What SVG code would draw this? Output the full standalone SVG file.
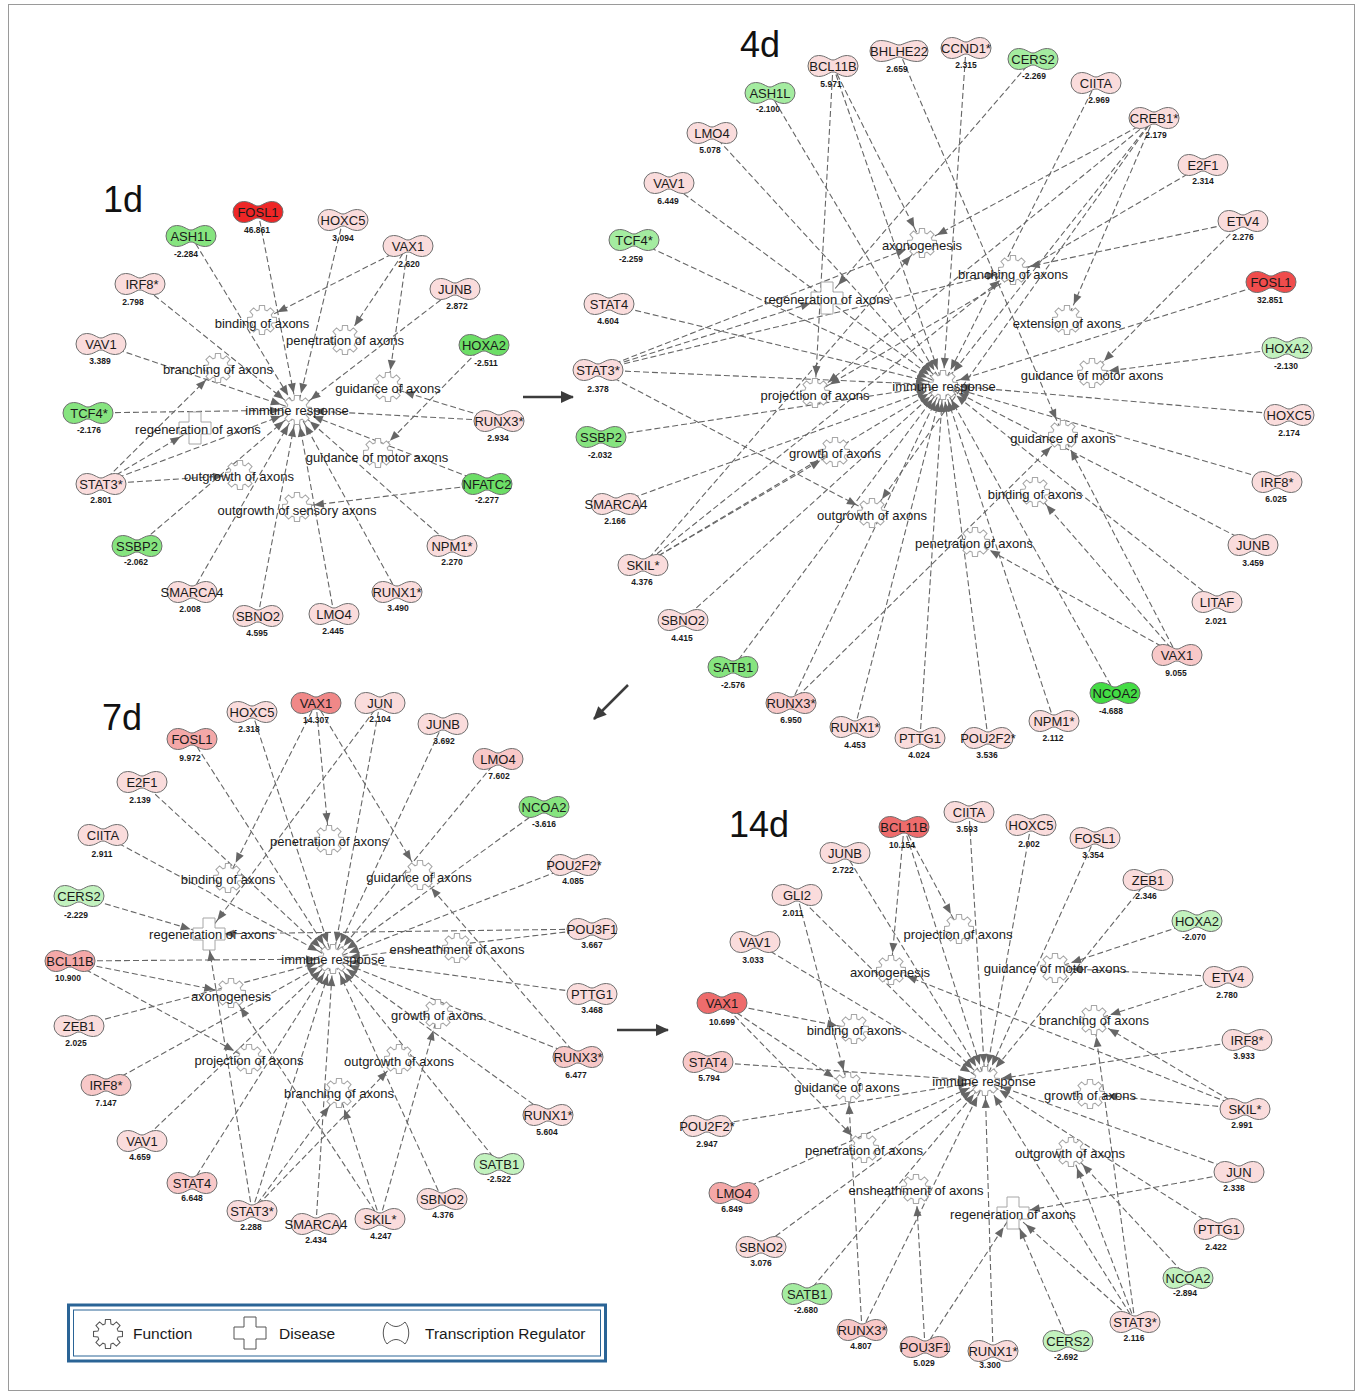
<svg xmlns="http://www.w3.org/2000/svg" width="1362" height="1395" viewBox="0 0 1362 1395">
<defs>
<style>
.e{fill:none;stroke:#666;stroke-width:1.1;stroke-dasharray:6 3;marker-end:url(#ah)}
.n{stroke:#6e6e6e;stroke-width:1}
.lb{font-family:"Liberation Sans",Arial,sans-serif;font-size:13px;fill:#1a1a1a;text-anchor:middle}
.v{font-family:"Liberation Sans",Arial,sans-serif;font-size:8.5px;font-weight:bold;fill:#1a1a1a;text-anchor:middle}
.fn{fill:#fff;stroke:#a6a6a6;stroke-width:1}
.ft{font-family:"Liberation Sans",Arial,sans-serif;font-size:13px;fill:#1a1a1a;text-anchor:middle}
.tt{font-family:"Liberation Sans",Arial,sans-serif;font-size:36px;fill:#111}
.lg{font-family:"Liberation Sans",Arial,sans-serif;font-size:15.5px;fill:#1a1a1a}
.big{stroke:#3c3c3c;stroke-width:2.5;fill:none;marker-end:url(#bh)}
.p0{fill:#fadcdc}.p1{fill:#f8c8c8}.p2{fill:#f4a8a8}.p3{fill:#f08888}.p4{fill:#ee6c6c}
.r1{fill:#ee2626}.r2{fill:#f04c4c}
.g0{fill:#c2f2be}.g1{fill:#a4eca0}.g2{fill:#86e47f}.g3{fill:#6cde66}.g4{fill:#44dc44}
</style>
<marker id="ah" markerUnits="userSpaceOnUse" markerWidth="10" markerHeight="8" refX="27" refY="4" orient="auto" overflow="visible"><path d="M0,0 L10,4 L0,8 Z" fill="#666"/></marker>
<marker id="bh" markerUnits="userSpaceOnUse" markerWidth="14" markerHeight="12" refX="12" refY="6" orient="auto" overflow="visible"><path d="M0,0 L13,6 L0,12 Z" fill="#3c3c3c"/></marker>
<path id="tr" d="M0,-6 C-4,-6 -7,-10.5 -14.5,-10.5 A10.5,10.5 0 0 0 -14.5,10.5 C-7,10.5 -4,6 0,6 C4,6 7,10.5 14.5,10.5 A10.5,10.5 0 0 0 14.5,-10.5 C7,-10.5 4,-6 0,-6 Z"/>
<path id="trw" d="M0,-6 C-4,-6 -9,-10.5 -18.5,-10.5 A10.5,10.5 0 0 0 -18.5,10.5 C-9,10.5 -4,6 0,6 C4,6 9,10.5 18.5,10.5 A10.5,10.5 0 0 0 18.5,-10.5 C9,-10.5 4,-6 0,-6 Z"/>
<path id="gear" transform="scale(1.05)" d="M9.61,-2.76 L13.79,-2.43 L13.79,2.43 L9.61,2.76 L8.75,4.85 L11.47,8.03 L8.03,11.47 L4.85,8.75 L2.76,9.61 L2.43,13.79 L-2.43,13.79 L-2.76,9.61 L-4.85,8.75 L-8.03,11.47 L-11.47,8.03 L-8.75,4.85 L-9.61,2.76 L-13.79,2.43 L-13.79,-2.43 L-9.61,-2.76 L-8.75,-4.85 L-11.47,-8.03 L-8.03,-11.47 L-4.85,-8.75 L-2.76,-9.61 L-2.43,-13.79 L2.43,-13.79 L2.76,-9.61 L4.85,-8.75 L8.03,-11.47 L11.47,-8.03 L8.75,-4.85 Z"/>
<path id="cross" d="M-6,-16 H6 V-6 H16 V6 H6 V16 H-6 V6 H-16 V-6 H-6 Z"/>
</defs>
<rect x="0" y="0" width="1362" height="1395" fill="#fff"/>
<rect x="8.5" y="4.5" width="1346" height="1386" fill="none" stroke="#9a9a9a" stroke-width="1"/>

<g id="titles">
<text class="tt" x="103" y="212">1d</text>
<text class="tt" x="740" y="57">4d</text>
<text class="tt" x="102" y="730">7d</text>
<text class="tt" x="729" y="837">14d</text>
</g>

<g id="connectors">
<!-- 1d -->
<line class="e" x1="191" y1="236" x2="297" y2="410"/>
<line class="e" x1="258" y1="212" x2="297" y2="410"/>
<line class="e" x1="343" y1="220" x2="297" y2="410"/>
<line class="e" x1="140" y1="284" x2="297" y2="410"/>
<line class="e" x1="101" y1="344" x2="297" y2="410"/>
<line class="e" x1="88" y1="413" x2="297" y2="410"/>
<line class="e" x1="455" y1="289" x2="297" y2="410"/>
<line class="e" x1="499" y1="421" x2="297" y2="410"/>
<line class="e" x1="499" y1="421" x2="388" y2="387"/>
<line class="e" x1="484" y1="345" x2="378" y2="453"/>
<line class="e" x1="408" y1="246" x2="262" y2="320"/>
<line class="e" x1="408" y1="246" x2="345" y2="340"/>
<line class="e" x1="408" y1="246" x2="388" y2="387"/>
<line class="e" x1="101" y1="484" x2="218" y2="368"/>
<line class="e" x1="101" y1="484" x2="195" y2="428"/>
<line class="e" x1="101" y1="484" x2="297" y2="410"/>
<line class="e" x1="101" y1="484" x2="240" y2="475"/>
<line class="e" x1="487" y1="484" x2="297" y2="410"/>
<line class="e" x1="487" y1="484" x2="297" y2="507"/>
<line class="e" x1="137" y1="546" x2="297" y2="410"/>
<line class="e" x1="192" y1="592" x2="297" y2="410"/>
<line class="e" x1="258" y1="616" x2="297" y2="410"/>
<line class="e" x1="334" y1="614" x2="297" y2="410"/>
<line class="e" x1="397" y1="592" x2="297" y2="410"/>
<line class="e" x1="452" y1="546" x2="297" y2="410"/>
<!-- 4d -->
<line class="e" x1="833" y1="66" x2="815" y2="393"/>
<line class="e" x1="833" y1="66" x2="922" y2="243"/>
<line class="e" x1="833" y1="66" x2="943" y2="385"/>
<line class="e" x1="899" y1="51" x2="1063" y2="435"/>
<line class="e" x1="966" y1="48" x2="943" y2="385"/>
<line class="e" x1="1033" y1="59" x2="827" y2="298"/>
<line class="e" x1="1096" y1="83" x2="943" y2="385"/>
<line class="e" x1="770" y1="93" x2="943" y2="385"/>
<line class="e" x1="1154" y1="118" x2="922" y2="243"/>
<line class="e" x1="1154" y1="118" x2="1067" y2="320"/>
<line class="e" x1="1154" y1="118" x2="943" y2="385"/>
<line class="e" x1="1154" y1="118" x2="815" y2="393"/>
<line class="e" x1="1154" y1="118" x2="872" y2="513"/>
<line class="e" x1="712" y1="133" x2="943" y2="385"/>
<line class="e" x1="1203" y1="165" x2="815" y2="393"/>
<line class="e" x1="669" y1="183" x2="943" y2="385"/>
<line class="e" x1="634" y1="240" x2="943" y2="385"/>
<line class="e" x1="1243" y1="221" x2="1013" y2="270"/>
<line class="e" x1="1243" y1="221" x2="1092" y2="373"/>
<line class="e" x1="1271" y1="282" x2="943" y2="385"/>
<line class="e" x1="609" y1="304" x2="943" y2="385"/>
<line class="e" x1="1287" y1="348" x2="1092" y2="373"/>
<line class="e" x1="598" y1="370" x2="827" y2="298"/>
<line class="e" x1="598" y1="370" x2="922" y2="243"/>
<line class="e" x1="598" y1="370" x2="1013" y2="270"/>
<line class="e" x1="598" y1="370" x2="943" y2="385"/>
<line class="e" x1="598" y1="370" x2="872" y2="513"/>
<line class="e" x1="1289" y1="415" x2="943" y2="385"/>
<line class="e" x1="601" y1="437" x2="943" y2="385"/>
<line class="e" x1="1277" y1="482" x2="943" y2="385"/>
<line class="e" x1="616" y1="504" x2="943" y2="385"/>
<line class="e" x1="1253" y1="545" x2="943" y2="385"/>
<line class="e" x1="643" y1="565" x2="943" y2="385"/>
<line class="e" x1="643" y1="565" x2="922" y2="243"/>
<line class="e" x1="643" y1="565" x2="835" y2="452"/>
<line class="e" x1="643" y1="565" x2="1013" y2="270"/>
<line class="e" x1="1217" y1="602" x2="943" y2="385"/>
<line class="e" x1="683" y1="620" x2="943" y2="385"/>
<line class="e" x1="1177" y1="655" x2="1063" y2="435"/>
<line class="e" x1="1177" y1="655" x2="1035" y2="492"/>
<line class="e" x1="1177" y1="655" x2="975" y2="542"/>
<line class="e" x1="733" y1="667" x2="943" y2="385"/>
<line class="e" x1="1115" y1="693" x2="943" y2="385"/>
<line class="e" x1="791" y1="703" x2="943" y2="385"/>
<line class="e" x1="791" y1="703" x2="1063" y2="435"/>
<line class="e" x1="1054" y1="721" x2="943" y2="385"/>
<line class="e" x1="855" y1="727" x2="943" y2="385"/>
<line class="e" x1="920" y1="738" x2="943" y2="385"/>
<line class="e" x1="988" y1="738" x2="943" y2="385"/>
<!-- 7d -->
<line class="e" x1="252" y1="712" x2="333" y2="959"/>
<line class="e" x1="316" y1="703" x2="228" y2="878"/>
<line class="e" x1="316" y1="703" x2="329" y2="840"/>
<line class="e" x1="316" y1="703" x2="420" y2="875"/>
<line class="e" x1="380" y1="703" x2="207" y2="934"/>
<line class="e" x1="380" y1="703" x2="333" y2="959"/>
<line class="e" x1="443" y1="724" x2="333" y2="959"/>
<line class="e" x1="192" y1="739" x2="333" y2="959"/>
<line class="e" x1="498" y1="759" x2="333" y2="959"/>
<line class="e" x1="142" y1="782" x2="333" y2="959"/>
<line class="e" x1="544" y1="807" x2="333" y2="959"/>
<line class="e" x1="103" y1="835" x2="333" y2="959"/>
<line class="e" x1="574" y1="865" x2="333" y2="959"/>
<line class="e" x1="79" y1="896" x2="207" y2="934"/>
<line class="e" x1="592" y1="929" x2="207" y2="934"/>
<line class="e" x1="592" y1="929" x2="333" y2="959"/>
<line class="e" x1="70" y1="961" x2="333" y2="959"/>
<line class="e" x1="70" y1="961" x2="231" y2="993"/>
<line class="e" x1="70" y1="961" x2="249" y2="1059"/>
<line class="e" x1="592" y1="994" x2="333" y2="959"/>
<line class="e" x1="79" y1="1026" x2="333" y2="959"/>
<line class="e" x1="578" y1="1057" x2="420" y2="875"/>
<line class="e" x1="578" y1="1057" x2="333" y2="959"/>
<line class="e" x1="106" y1="1085" x2="333" y2="959"/>
<line class="e" x1="548" y1="1115" x2="333" y2="959"/>
<line class="e" x1="142" y1="1141" x2="333" y2="959"/>
<line class="e" x1="499" y1="1164" x2="333" y2="959"/>
<line class="e" x1="192" y1="1183" x2="333" y2="959"/>
<line class="e" x1="442" y1="1199" x2="333" y2="959"/>
<line class="e" x1="252" y1="1211" x2="207" y2="934"/>
<line class="e" x1="252" y1="1211" x2="333" y2="959"/>
<line class="e" x1="252" y1="1211" x2="339" y2="1093"/>
<line class="e" x1="252" y1="1211" x2="399" y2="1059"/>
<line class="e" x1="316" y1="1224" x2="333" y2="959"/>
<line class="e" x1="380" y1="1219" x2="231" y2="993"/>
<line class="e" x1="380" y1="1219" x2="339" y2="1093"/>
<line class="e" x1="380" y1="1219" x2="438" y2="1014"/>
<!-- 14d -->
<line class="e" x1="904" y1="827" x2="891" y2="970"/>
<line class="e" x1="904" y1="827" x2="959" y2="929"/>
<line class="e" x1="904" y1="827" x2="985" y2="1081"/>
<line class="e" x1="969" y1="812" x2="985" y2="1081"/>
<line class="e" x1="1031" y1="825" x2="985" y2="1081"/>
<line class="e" x1="1095" y1="838" x2="985" y2="1081"/>
<line class="e" x1="845" y1="853" x2="985" y2="1081"/>
<line class="e" x1="1148" y1="880" x2="985" y2="1081"/>
<line class="e" x1="797" y1="895" x2="848" y2="1087"/>
<line class="e" x1="797" y1="895" x2="985" y2="1081"/>
<line class="e" x1="1197" y1="921" x2="1055" y2="968"/>
<line class="e" x1="755" y1="942" x2="985" y2="1081"/>
<line class="e" x1="1228" y1="977" x2="1055" y2="968"/>
<line class="e" x1="1228" y1="977" x2="1094" y2="1020"/>
<line class="e" x1="722" y1="1003" x2="854" y2="1029"/>
<line class="e" x1="722" y1="1003" x2="848" y2="1087"/>
<line class="e" x1="722" y1="1003" x2="864" y2="1148"/>
<line class="e" x1="1247" y1="1040" x2="985" y2="1081"/>
<line class="e" x1="708" y1="1062" x2="985" y2="1081"/>
<line class="e" x1="1245" y1="1109" x2="891" y2="970"/>
<line class="e" x1="1245" y1="1109" x2="1094" y2="1020"/>
<line class="e" x1="1245" y1="1109" x2="1090" y2="1094"/>
<line class="e" x1="707" y1="1126" x2="985" y2="1081"/>
<line class="e" x1="1239" y1="1172" x2="1013" y2="1213"/>
<line class="e" x1="1239" y1="1172" x2="985" y2="1081"/>
<line class="e" x1="734" y1="1193" x2="985" y2="1081"/>
<line class="e" x1="1219" y1="1229" x2="985" y2="1081"/>
<line class="e" x1="761" y1="1247" x2="985" y2="1081"/>
<line class="e" x1="1188" y1="1278" x2="1071" y2="1152"/>
<line class="e" x1="807" y1="1294" x2="985" y2="1081"/>
<line class="e" x1="862" y1="1330" x2="848" y2="1087"/>
<line class="e" x1="862" y1="1330" x2="985" y2="1081"/>
<line class="e" x1="925" y1="1347" x2="916" y2="1189"/>
<line class="e" x1="925" y1="1347" x2="1013" y2="1213"/>
<line class="e" x1="993" y1="1351" x2="985" y2="1081"/>
<line class="e" x1="1068" y1="1341" x2="1013" y2="1213"/>
<line class="e" x1="1135" y1="1322" x2="1013" y2="1213"/>
<line class="e" x1="1135" y1="1322" x2="1071" y2="1152"/>
<line class="e" x1="1135" y1="1322" x2="1094" y2="1020"/>
<line class="e" x1="1135" y1="1322" x2="985" y2="1081"/>
<!-- panel arrows -->
<line class="big" x1="523" y1="397" x2="573" y2="397"/>
<line class="big" x1="628" y1="685" x2="594" y2="719"/>
<line class="big" x1="617" y1="1030" x2="668" y2="1030"/>
</g>

<g id="functions-1d">
<g id="f1-bind"><use href="#gear" x="262" y="320" class="fn"/><text class="ft" x="262" y="328">binding of axons</text></g>
<g id="f1-pen"><use href="#gear" x="345" y="340" class="fn"/><text class="ft" x="345" y="344.5">penetration of axons</text></g>
<g id="f1-bra"><use href="#gear" x="218" y="368" class="fn"/><text class="ft" x="218" y="373.5">branching of axons</text></g>
<g id="f1-gui"><use href="#gear" x="388" y="387" class="fn"/><text class="ft" x="388" y="392.5">guidance of axons</text></g>
<g id="f1-reg"><use href="#cross" x="195" y="428" class="fn"/><text class="ft" x="198" y="433.5">regeneration of axons</text></g>
<g id="f1-gmot"><use href="#gear" x="378" y="453" class="fn"/><text class="ft" x="377" y="461.5">guidance of motor axons</text></g>
<g id="f1-out"><use href="#gear" x="240" y="475" class="fn"/><text class="ft" x="239" y="480.5">outgrowth of axons</text></g>
<g id="f1-outs"><use href="#gear" x="297" y="507" class="fn"/><text class="ft" x="297" y="515">outgrowth of sensory axons</text></g>
<g id="f1-imm"><use href="#gear" x="297" y="410" class="fn"/><text class="ft" x="297" y="414.5">immune response</text></g>
</g>

<g id="functions-4d">
<g id="f4-axg"><use href="#gear" x="922" y="243" class="fn"/><text class="ft" x="922" y="250">axonogenesis</text></g>
<g id="f4-bra"><use href="#gear" x="1013" y="270" class="fn"/><text class="ft" x="1013" y="279">branching of axons</text></g>
<g id="f4-reg"><use href="#cross" x="827" y="298" class="fn"/><text class="ft" x="827" y="304">regeneration of axons</text></g>
<g id="f4-ext"><use href="#gear" x="1067" y="320" class="fn"/><text class="ft" x="1067" y="327.5">extension of axons</text></g>
<g id="f4-gmot"><use href="#gear" x="1092" y="373" class="fn"/><text class="ft" x="1092" y="379.5">guidance of motor axons</text></g>
<g id="f4-proj"><use href="#gear" x="815" y="393" class="fn"/><text class="ft" x="815" y="399.5">projection of axons</text></g>
<g id="f4-gui"><use href="#gear" x="1063" y="435" class="fn"/><text class="ft" x="1063" y="442.5">guidance of axons</text></g>
<g id="f4-grow"><use href="#gear" x="835" y="452" class="fn"/><text class="ft" x="835" y="457.5">growth of axons</text></g>
<g id="f4-bind"><use href="#gear" x="1035" y="492" class="fn"/><text class="ft" x="1035" y="499">binding of axons</text></g>
<g id="f4-out"><use href="#gear" x="872" y="513" class="fn"/><text class="ft" x="872" y="519.5">outgrowth of axons</text></g>
<g id="f4-pen"><use href="#gear" x="975" y="542" class="fn"/><text class="ft" x="974" y="547.5">penetration of axons</text></g>
<g id="f4-imm"><use href="#gear" x="943" y="385" class="fn"/><text class="ft" x="944" y="390.5">immune response</text></g>
</g>

<g id="functions-7d">
<g id="f7-pen"><use href="#gear" x="329" y="840" class="fn"/><text class="ft" x="329" y="846">penetration of axons</text></g>
<g id="f7-bind"><use href="#gear" x="228" y="878" class="fn"/><text class="ft" x="228" y="884">binding of axons</text></g>
<g id="f7-gui"><use href="#gear" x="420" y="875" class="fn"/><text class="ft" x="419" y="881.5">guidance of axons</text></g>
<g id="f7-reg"><use href="#cross" x="209" y="934" class="fn"/><text class="ft" x="212" y="939">regeneration of axons</text></g>
<g id="f7-ens"><use href="#gear" x="457" y="948" class="fn"/><text class="ft" x="457" y="954">ensheathment of axons</text></g>
<g id="f7-axg"><use href="#gear" x="231" y="993" class="fn"/><text class="ft" x="231" y="1001">axonogenesis</text></g>
<g id="f7-grow"><use href="#gear" x="438" y="1014" class="fn"/><text class="ft" x="437" y="1020">growth of axons</text></g>
<g id="f7-proj"><use href="#gear" x="249" y="1059" class="fn"/><text class="ft" x="249" y="1065">projection of axons</text></g>
<g id="f7-out"><use href="#gear" x="399" y="1059" class="fn"/><text class="ft" x="399" y="1065.5">outgrowth of axons</text></g>
<g id="f7-bra"><use href="#gear" x="339" y="1093" class="fn"/><text class="ft" x="339" y="1098">branching of axons</text></g>
<g id="f7-imm"><use href="#gear" x="333" y="959" class="fn"/><text class="ft" x="333" y="963.5">immune response</text></g>
</g>

<g id="functions-14d">
<g id="f14-proj"><use href="#gear" x="959" y="929" class="fn"/><text class="ft" x="958" y="939">projection of axons</text></g>
<g id="f14-axg"><use href="#gear" x="891" y="970" class="fn"/><text class="ft" x="890" y="977">axonogenesis</text></g>
<g id="f14-gmot"><use href="#gear" x="1055" y="968" class="fn"/><text class="ft" x="1055" y="973">guidance of motor axons</text></g>
<g id="f14-bra"><use href="#gear" x="1094" y="1020" class="fn"/><text class="ft" x="1094" y="1025">branching of axons</text></g>
<g id="f14-bind"><use href="#gear" x="854" y="1029" class="fn"/><text class="ft" x="854" y="1035">binding of axons</text></g>
<g id="f14-gui"><use href="#gear" x="848" y="1087" class="fn"/><text class="ft" x="847" y="1092">guidance of axons</text></g>
<g id="f14-grow"><use href="#gear" x="1090" y="1094" class="fn"/><text class="ft" x="1090" y="1099.5">growth of axons</text></g>
<g id="f14-pen"><use href="#gear" x="864" y="1148" class="fn"/><text class="ft" x="864" y="1154.5">penetration of axons</text></g>
<g id="f14-out"><use href="#gear" x="1071" y="1152" class="fn"/><text class="ft" x="1070" y="1157.5">outgrowth of axons</text></g>
<g id="f14-ens"><use href="#gear" x="916" y="1189" class="fn"/><text class="ft" x="916" y="1194.5">ensheathment of axons</text></g>
<g id="f14-reg"><use href="#cross" x="1013" y="1213" class="fn"/><text class="ft" x="1013" y="1218.5">regeneration of axons</text></g>
<g id="f14-imm"><use href="#gear" x="985" y="1081" class="fn"/><text class="ft" x="984" y="1085.5">immune response</text></g>
</g>

<g id="genes-1d">
<g id="g1-FOSL1"><use href="#tr" x="258" y="212" class="n r1"/><text class="lb" x="258" y="216.5">FOSL1</text><text class="v" x="257" y="233">46.861</text></g>
<g id="g1-HOXC5"><use href="#tr" x="343" y="220" class="n p0"/><text class="lb" x="343" y="224.5">HOXC5</text><text class="v" x="343" y="241">3.094</text></g>
<g id="g1-ASH1L"><use href="#tr" x="191" y="236" class="n g2"/><text class="lb" x="191" y="240.5">ASH1L</text><text class="v" x="186" y="257">-2.284</text></g>
<g id="g1-VAX1"><use href="#tr" x="408" y="246" class="n p0"/><text class="lb" x="408" y="250.5">VAX1</text><text class="v" x="409" y="267">2.620</text></g>
<g id="g1-IRF8"><use href="#tr" x="140" y="284" class="n p0"/><text class="lb" x="142" y="288.5">IRF8*</text><text class="v" x="133" y="305">2.798</text></g>
<g id="g1-JUNB"><use href="#tr" x="455" y="289" class="n p0"/><text class="lb" x="455" y="293.5">JUNB</text><text class="v" x="457" y="309">2.872</text></g>
<g id="g1-HOXA2"><use href="#tr" x="484" y="345" class="n g3"/><text class="lb" x="484" y="349.5">HOXA2</text><text class="v" x="486" y="366">-2.511</text></g>
<g id="g1-VAV1"><use href="#tr" x="101" y="344" class="n p0"/><text class="lb" x="101" y="348.5">VAV1</text><text class="v" x="100" y="364">3.389</text></g>
<g id="g1-TCF4"><use href="#tr" x="88" y="413" class="n g2"/><text class="lb" x="89" y="417.5">TCF4*</text><text class="v" x="89" y="433">-2.176</text></g>
<g id="g1-RUNX3"><use href="#tr" x="499" y="421" class="n p0"/><text class="lb" x="499" y="425.5">RUNX3*</text><text class="v" x="498" y="441">2.934</text></g>
<g id="g1-STAT3"><use href="#tr" x="101" y="484" class="n p0"/><text class="lb" x="101" y="488.5">STAT3*</text><text class="v" x="101" y="503">2.801</text></g>
<g id="g1-NFATC2"><use href="#tr" x="487" y="484" class="n g3"/><text class="lb" x="487" y="488.5">NFATC2</text><text class="v" x="487" y="503">-2.277</text></g>
<g id="g1-SSBP2"><use href="#tr" x="137" y="546" class="n g2"/><text class="lb" x="137" y="550.5">SSBP2</text><text class="v" x="136" y="565">-2.062</text></g>
<g id="g1-NPM1"><use href="#tr" x="452" y="546" class="n p0"/><text class="lb" x="452" y="550.5">NPM1*</text><text class="v" x="452" y="565">2.270</text></g>
<g id="g1-SMARCA4"><use href="#tr" x="192" y="592" class="n p0"/><text class="lb" x="192" y="596.5">SMARCA4</text><text class="v" x="190" y="612">2.008</text></g>
<g id="g1-RUNX1"><use href="#tr" x="397" y="592" class="n p0"/><text class="lb" x="397" y="596.5">RUNX1*</text><text class="v" x="398" y="611">3.490</text></g>
<g id="g1-SBNO2"><use href="#tr" x="258" y="616" class="n p0"/><text class="lb" x="258" y="620.5">SBNO2</text><text class="v" x="257" y="636">4.595</text></g>
<g id="g1-LMO4"><use href="#tr" x="334" y="614" class="n p0"/><text class="lb" x="334" y="618.5">LMO4</text><text class="v" x="333" y="634">2.445</text></g>
</g>

<g id="genes-4d">
<g id="g4-BCL11B"><use href="#tr" x="833" y="66" class="n p0"/><text class="lb" x="833" y="70.5">BCL11B</text><text class="v" x="831" y="87">5.971</text></g>
<g id="g4-BHLHE22"><use href="#trw" x="899" y="51" class="n p0"/><text class="lb" x="899" y="55.5">BHLHE22</text><text class="v" x="897" y="72">2.659</text></g>
<g id="g4-CCND1"><use href="#tr" x="966" y="48" class="n p0"/><text class="lb" x="966" y="52.5">CCND1*</text><text class="v" x="966" y="68">2.315</text></g>
<g id="g4-CERS2"><use href="#tr" x="1033" y="59" class="n g1"/><text class="lb" x="1033" y="63.5">CERS2</text><text class="v" x="1034" y="79">-2.269</text></g>
<g id="g4-CIITA"><use href="#tr" x="1096" y="83" class="n p0"/><text class="lb" x="1096" y="87.5">CIITA</text><text class="v" x="1099" y="103">2.969</text></g>
<g id="g4-ASH1L"><use href="#tr" x="770" y="93" class="n g1"/><text class="lb" x="770" y="97.5">ASH1L</text><text class="v" x="768" y="112">-2.100</text></g>
<g id="g4-CREB1"><use href="#tr" x="1154" y="118" class="n p0"/><text class="lb" x="1154" y="122.5">CREB1*</text><text class="v" x="1156" y="138">2.179</text></g>
<g id="g4-LMO4"><use href="#tr" x="712" y="133" class="n p0"/><text class="lb" x="712" y="137.5">LMO4</text><text class="v" x="710" y="153">5.078</text></g>
<g id="g4-E2F1"><use href="#tr" x="1203" y="165" class="n p0"/><text class="lb" x="1203" y="169.5">E2F1</text><text class="v" x="1203" y="184">2.314</text></g>
<g id="g4-VAV1"><use href="#tr" x="669" y="183" class="n p0"/><text class="lb" x="669" y="187.5">VAV1</text><text class="v" x="668" y="204">6.449</text></g>
<g id="g4-TCF4"><use href="#tr" x="634" y="240" class="n g1"/><text class="lb" x="634" y="244.5">TCF4*</text><text class="v" x="631" y="262">-2.259</text></g>
<g id="g4-ETV4"><use href="#tr" x="1243" y="221" class="n p0"/><text class="lb" x="1243" y="225.5">ETV4</text><text class="v" x="1243" y="240">2.276</text></g>
<g id="g4-FOSL1"><use href="#tr" x="1271" y="282" class="n r2"/><text class="lb" x="1271" y="286.5">FOSL1</text><text class="v" x="1270" y="303">32.851</text></g>
<g id="g4-STAT4"><use href="#tr" x="609" y="304" class="n p0"/><text class="lb" x="609" y="308.5">STAT4</text><text class="v" x="608" y="324">4.604</text></g>
<g id="g4-HOXA2"><use href="#tr" x="1287" y="348" class="n g0"/><text class="lb" x="1287" y="352.5">HOXA2</text><text class="v" x="1286" y="369">-2.130</text></g>
<g id="g4-STAT3"><use href="#tr" x="598" y="370" class="n p0"/><text class="lb" x="598" y="374.5">STAT3*</text><text class="v" x="598" y="392">2.378</text></g>
<g id="g4-HOXC5"><use href="#tr" x="1289" y="415" class="n p0"/><text class="lb" x="1289" y="419.5">HOXC5</text><text class="v" x="1289" y="436">2.174</text></g>
<g id="g4-SSBP2"><use href="#tr" x="601" y="437" class="n g2"/><text class="lb" x="601" y="441.5">SSBP2</text><text class="v" x="600" y="458">-2.032</text></g>
<g id="g4-IRF8"><use href="#tr" x="1277" y="482" class="n p0"/><text class="lb" x="1277" y="486.5">IRF8*</text><text class="v" x="1276" y="502">6.025</text></g>
<g id="g4-SMARCA4"><use href="#tr" x="616" y="504" class="n p0"/><text class="lb" x="616" y="508.5">SMARCA4</text><text class="v" x="615" y="524">2.166</text></g>
<g id="g4-JUNB"><use href="#tr" x="1253" y="545" class="n p0"/><text class="lb" x="1253" y="549.5">JUNB</text><text class="v" x="1253" y="566">3.459</text></g>
<g id="g4-SKIL"><use href="#tr" x="643" y="565" class="n p0"/><text class="lb" x="643" y="569.5">SKIL*</text><text class="v" x="642" y="585">4.376</text></g>
<g id="g4-LITAF"><use href="#tr" x="1217" y="602" class="n p0"/><text class="lb" x="1217" y="606.5">LITAF</text><text class="v" x="1216" y="624">2.021</text></g>
<g id="g4-SBNO2"><use href="#tr" x="683" y="620" class="n p0"/><text class="lb" x="683" y="624.5">SBNO2</text><text class="v" x="682" y="641">4.415</text></g>
<g id="g4-VAX1"><use href="#tr" x="1177" y="655" class="n p1"/><text class="lb" x="1177" y="659.5">VAX1</text><text class="v" x="1176" y="676">9.055</text></g>
<g id="g4-SATB1"><use href="#tr" x="733" y="667" class="n g2"/><text class="lb" x="733" y="671.5">SATB1</text><text class="v" x="733" y="688">-2.576</text></g>
<g id="g4-NCOA2"><use href="#tr" x="1115" y="693" class="n g4"/><text class="lb" x="1115" y="697.5">NCOA2</text><text class="v" x="1111" y="714">-4.688</text></g>
<g id="g4-RUNX3"><use href="#tr" x="791" y="703" class="n p1"/><text class="lb" x="791" y="707.5">RUNX3*</text><text class="v" x="791" y="723">6.950</text></g>
<g id="g4-NPM1"><use href="#tr" x="1054" y="721" class="n p0"/><text class="lb" x="1054" y="725.5">NPM1*</text><text class="v" x="1053" y="741">2.112</text></g>
<g id="g4-RUNX1"><use href="#tr" x="855" y="727" class="n p0"/><text class="lb" x="855" y="731.5">RUNX1*</text><text class="v" x="855" y="748">4.453</text></g>
<g id="g4-PTTG1"><use href="#tr" x="920" y="738" class="n p0"/><text class="lb" x="920" y="742.5">PTTG1</text><text class="v" x="919" y="758">4.024</text></g>
<g id="g4-POU2F2"><use href="#tr" x="988" y="738" class="n p0"/><text class="lb" x="988" y="742.5">POU2F2*</text><text class="v" x="987" y="758">3.536</text></g>
</g>

<g id="genes-7d">
<g id="g7-HOXC5"><use href="#tr" x="252" y="712" class="n p0"/><text class="lb" x="252" y="716.5">HOXC5</text><text class="v" x="249" y="732">2.318</text></g>
<g id="g7-VAX1"><use href="#tr" x="316" y="703" class="n p3"/><text class="lb" x="316" y="707.5">VAX1</text><text class="v" x="316" y="723">14.307</text></g>
<g id="g7-JUN"><use href="#tr" x="380" y="703" class="n p0"/><text class="lb" x="380" y="707.5">JUN</text><text class="v" x="380" y="722">2.104</text></g>
<g id="g7-JUNB"><use href="#tr" x="443" y="724" class="n p0"/><text class="lb" x="443" y="728.5">JUNB</text><text class="v" x="444" y="744">3.692</text></g>
<g id="g7-FOSL1"><use href="#tr" x="192" y="739" class="n p2"/><text class="lb" x="192" y="743.5">FOSL1</text><text class="v" x="190" y="761">9.972</text></g>
<g id="g7-LMO4"><use href="#tr" x="498" y="759" class="n p1"/><text class="lb" x="498" y="763.5">LMO4</text><text class="v" x="499" y="779">7.602</text></g>
<g id="g7-E2F1"><use href="#tr" x="142" y="782" class="n p0"/><text class="lb" x="142" y="786.5">E2F1</text><text class="v" x="140" y="803">2.139</text></g>
<g id="g7-NCOA2"><use href="#tr" x="544" y="807" class="n g2"/><text class="lb" x="544" y="811.5">NCOA2</text><text class="v" x="544" y="827">-3.616</text></g>
<g id="g7-CIITA"><use href="#tr" x="103" y="835" class="n p0"/><text class="lb" x="103" y="839.5">CIITA</text><text class="v" x="102" y="857">2.911</text></g>
<g id="g7-POU2F2"><use href="#tr" x="574" y="865" class="n p0"/><text class="lb" x="574" y="869.5">POU2F2*</text><text class="v" x="573" y="884">4.085</text></g>
<g id="g7-CERS2"><use href="#tr" x="79" y="896" class="n g0"/><text class="lb" x="79" y="900.5">CERS2</text><text class="v" x="76" y="918">-2.229</text></g>
<g id="g7-POU3F1"><use href="#tr" x="592" y="929" class="n p0"/><text class="lb" x="592" y="933.5">POU3F1</text><text class="v" x="592" y="948">3.667</text></g>
<g id="g7-BCL11B"><use href="#tr" x="70" y="961" class="n p2"/><text class="lb" x="70" y="965.5">BCL11B</text><text class="v" x="68" y="981">10.900</text></g>
<g id="g7-PTTG1"><use href="#tr" x="592" y="994" class="n p0"/><text class="lb" x="592" y="998.5">PTTG1</text><text class="v" x="592" y="1013">3.468</text></g>
<g id="g7-ZEB1"><use href="#tr" x="79" y="1026" class="n p0"/><text class="lb" x="79" y="1030.5">ZEB1</text><text class="v" x="76" y="1046">2.025</text></g>
<g id="g7-RUNX3"><use href="#tr" x="578" y="1057" class="n p1"/><text class="lb" x="578" y="1061.5">RUNX3*</text><text class="v" x="576" y="1078">6.477</text></g>
<g id="g7-IRF8"><use href="#tr" x="106" y="1085" class="n p1"/><text class="lb" x="106" y="1089.5">IRF8*</text><text class="v" x="106" y="1106">7.147</text></g>
<g id="g7-RUNX1"><use href="#tr" x="548" y="1115" class="n p0"/><text class="lb" x="548" y="1119.5">RUNX1*</text><text class="v" x="547" y="1135">5.604</text></g>
<g id="g7-VAV1"><use href="#tr" x="142" y="1141" class="n p0"/><text class="lb" x="142" y="1145.5">VAV1</text><text class="v" x="140" y="1160">4.659</text></g>
<g id="g7-SATB1"><use href="#tr" x="499" y="1164" class="n g0"/><text class="lb" x="499" y="1168.5">SATB1</text><text class="v" x="499" y="1182">-2.522</text></g>
<g id="g7-STAT4"><use href="#tr" x="192" y="1183" class="n p1"/><text class="lb" x="192" y="1187.5">STAT4</text><text class="v" x="192" y="1201">6.648</text></g>
<g id="g7-SBNO2"><use href="#tr" x="442" y="1199" class="n p0"/><text class="lb" x="442" y="1203.5">SBNO2</text><text class="v" x="443" y="1218">4.376</text></g>
<g id="g7-STAT3"><use href="#tr" x="252" y="1211" class="n p0"/><text class="lb" x="252" y="1215.5">STAT3*</text><text class="v" x="251" y="1230">2.288</text></g>
<g id="g7-SMARCA4"><use href="#tr" x="316" y="1224" class="n p0"/><text class="lb" x="316" y="1228.5">SMARCA4</text><text class="v" x="316" y="1243">2.434</text></g>
<g id="g7-SKIL"><use href="#tr" x="380" y="1219" class="n p0"/><text class="lb" x="380" y="1223.5">SKIL*</text><text class="v" x="381" y="1239">4.247</text></g>
</g>

<g id="genes-14d">
<g id="g14-CIITA"><use href="#tr" x="969" y="812" class="n p0"/><text class="lb" x="969" y="816.5">CIITA</text><text class="v" x="967" y="832">3.593</text></g>
<g id="g14-BCL11B"><use href="#tr" x="904" y="827" class="n p4"/><text class="lb" x="904" y="831.5">BCL11B</text><text class="v" x="902" y="848">10.154</text></g>
<g id="g14-HOXC5"><use href="#tr" x="1031" y="825" class="n p0"/><text class="lb" x="1031" y="829.5">HOXC5</text><text class="v" x="1029" y="847">2.002</text></g>
<g id="g14-FOSL1"><use href="#tr" x="1095" y="838" class="n p0"/><text class="lb" x="1095" y="842.5">FOSL1</text><text class="v" x="1093" y="858">3.354</text></g>
<g id="g14-JUNB"><use href="#tr" x="845" y="853" class="n p0"/><text class="lb" x="845" y="857.5">JUNB</text><text class="v" x="843" y="873">2.722</text></g>
<g id="g14-ZEB1"><use href="#tr" x="1148" y="880" class="n p0"/><text class="lb" x="1148" y="884.5">ZEB1</text><text class="v" x="1146" y="899">2.346</text></g>
<g id="g14-GLI2"><use href="#tr" x="797" y="895" class="n p0"/><text class="lb" x="797" y="899.5">GLI2</text><text class="v" x="793" y="916">2.011</text></g>
<g id="g14-HOXA2"><use href="#tr" x="1197" y="921" class="n g0"/><text class="lb" x="1197" y="925.5">HOXA2</text><text class="v" x="1194" y="940">-2.070</text></g>
<g id="g14-VAV1"><use href="#tr" x="755" y="942" class="n p0"/><text class="lb" x="755" y="946.5">VAV1</text><text class="v" x="753" y="963">3.033</text></g>
<g id="g14-ETV4"><use href="#tr" x="1228" y="977" class="n p0"/><text class="lb" x="1228" y="981.5">ETV4</text><text class="v" x="1227" y="998">2.780</text></g>
<g id="g14-VAX1"><use href="#tr" x="722" y="1003" class="n p4"/><text class="lb" x="722" y="1007.5">VAX1</text><text class="v" x="722" y="1025">10.699</text></g>
<g id="g14-IRF8"><use href="#tr" x="1247" y="1040" class="n p0"/><text class="lb" x="1247" y="1044.5">IRF8*</text><text class="v" x="1244" y="1059">3.933</text></g>
<g id="g14-STAT4"><use href="#tr" x="708" y="1062" class="n p1"/><text class="lb" x="708" y="1066.5">STAT4</text><text class="v" x="709" y="1081">5.794</text></g>
<g id="g14-SKIL"><use href="#tr" x="1245" y="1109" class="n p0"/><text class="lb" x="1245" y="1113.5">SKIL*</text><text class="v" x="1242" y="1128">2.991</text></g>
<g id="g14-POU2F2"><use href="#tr" x="707" y="1126" class="n p0"/><text class="lb" x="707" y="1130.5">POU2F2*</text><text class="v" x="707" y="1147">2.947</text></g>
<g id="g14-JUN"><use href="#tr" x="1239" y="1172" class="n p0"/><text class="lb" x="1239" y="1176.5">JUN</text><text class="v" x="1234" y="1191">2.338</text></g>
<g id="g14-LMO4"><use href="#tr" x="734" y="1193" class="n p2"/><text class="lb" x="734" y="1197.5">LMO4</text><text class="v" x="732" y="1212">6.849</text></g>
<g id="g14-PTTG1"><use href="#tr" x="1219" y="1229" class="n p0"/><text class="lb" x="1219" y="1233.5">PTTG1</text><text class="v" x="1216" y="1250">2.422</text></g>
<g id="g14-SBNO2"><use href="#tr" x="761" y="1247" class="n p0"/><text class="lb" x="761" y="1251.5">SBNO2</text><text class="v" x="761" y="1266">3.076</text></g>
<g id="g14-NCOA2"><use href="#tr" x="1188" y="1278" class="n g0"/><text class="lb" x="1188" y="1282.5">NCOA2</text><text class="v" x="1185" y="1296">-2.894</text></g>
<g id="g14-SATB1"><use href="#tr" x="807" y="1294" class="n g1"/><text class="lb" x="807" y="1298.5">SATB1</text><text class="v" x="806" y="1313">-2.680</text></g>
<g id="g14-RUNX3"><use href="#tr" x="862" y="1330" class="n p1"/><text class="lb" x="862" y="1334.5">RUNX3*</text><text class="v" x="861" y="1349">4.807</text></g>
<g id="g14-STAT3"><use href="#tr" x="1135" y="1322" class="n p0"/><text class="lb" x="1135" y="1326.5">STAT3*</text><text class="v" x="1134" y="1341">2.116</text></g>
<g id="g14-POU3F1"><use href="#tr" x="925" y="1347" class="n p1"/><text class="lb" x="925" y="1351.5">POU3F1</text><text class="v" x="924" y="1366">5.029</text></g>
<g id="g14-RUNX1"><use href="#tr" x="993" y="1351" class="n p0"/><text class="lb" x="993" y="1355.5">RUNX1*</text><text class="v" x="990" y="1368">3.300</text></g>
<g id="g14-CERS2"><use href="#tr" x="1068" y="1341" class="n g0"/><text class="lb" x="1068" y="1345.5">CERS2</text><text class="v" x="1066" y="1360">-2.692</text></g>
</g>

<g id="legend">
<rect x="68.5" y="1305" width="537" height="56" fill="#fff" stroke="#2a6496" stroke-width="3"/>
<rect x="73.5" y="1310" width="527" height="46" fill="none" stroke="#2a6496" stroke-width="1"/>
<use href="#gear" x="108" y="1334" fill="#fff" stroke="#555" stroke-width="1"/>
<text class="lg" x="133" y="1339">Function</text>
<use href="#cross" x="250" y="1333" fill="#fff" stroke="#555" stroke-width="1"/>
<text class="lg" x="279" y="1339">Disease</text>
<path d="M387,1322 C393,1328 399,1328 405,1322 C410,1328 410,1338 405,1344 C399,1338 393,1338 387,1344 C382,1338 382,1328 387,1322 Z" fill="#fff" stroke="#555" stroke-width="1"/>
<text class="lg" x="425" y="1339">Transcription Regulator</text>
</g>
</svg>
